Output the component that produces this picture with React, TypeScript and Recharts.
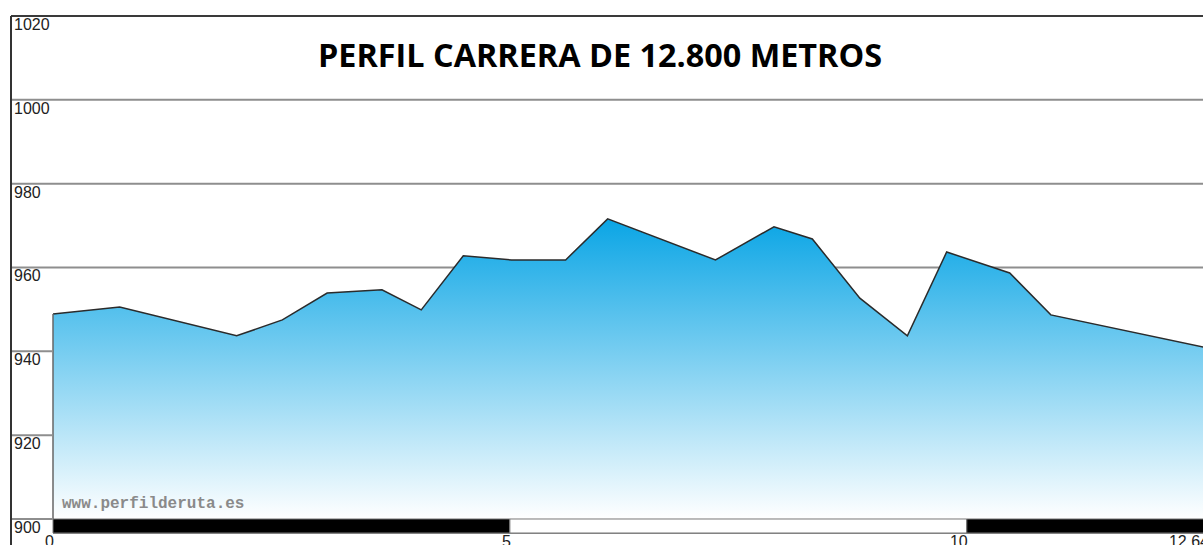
import React from 'react';
import {
  AreaChart, Area, XAxis, YAxis, CartesianGrid, ReferenceArea, ReferenceLine
} from 'recharts';

// distance (km) and elevation (m)
const distKm = [0, 0.73, 2.01, 2.51, 3.0, 3.6, 4.03, 4.49, 5.02, 5.61, 6.07, 7.25, 7.89, 8.31, 8.83, 9.35, 9.78, 10.47, 10.92, 12.64];
const elevM = [948.9, 950.6, 943.7, 947.5, 953.9, 954.7, 949.9, 962.8, 961.8, 961.8, 971.6, 961.8, 969.7, 966.8, 952.7, 943.7, 963.7, 958.7, 948.7, 940.8];
const yTicks = [900, 920, 940, 960, 980, 1000, 1020];
const xTicks = [0, 5, 10, 12.64];
const bandEdges = [0, 5, 10, 12.64];

const data = distKm.map((km, i) => ({ km, elev: elevM[i] }));

const Y_MIN = 896.66;
const Y_MAX = 1020;
const FONT = '"Liberation Sans", Arial, sans-serif';

const YTick = (props: any) => {
  const { y, payload } = props;
  const top = payload.value === Y_MAX;
  return (
    <g>
      <line x1={11} x2={53} y1={y} y2={y} stroke={top ? '#3a3a3a' : '#8e8e8e'} strokeWidth={2} />
      <text x={14} y={y + 14} fontSize={16} fontFamily={FONT} fill="#222">{payload.value}</text>
    </g>
  );
};

const XTick = (props: any) => {
  const { x, payload } = props;
  return (
    <text x={x + 1} y={547} textAnchor="end" fontSize={16} fontFamily={FONT} fill="#222">
      {payload.value}
    </text>
  );
};

const App = () => {
  return (
    <div style={{ position: 'fixed', left: 0, top: 0, width: 1203, height: 545, overflow: 'hidden', background: '#fff' }}>
      <AreaChart
        width={1230}
        height={560}
        data={data}
        margin={{ top: 16, right: 22, left: 11, bottom: 7 }}
      >
        <defs>
          <linearGradient id="elevFill" x1="0" y1="0" x2="0" y2="1">
            <stop offset="0%" stopColor="#0aa5e5" />
            <stop offset="100%" stopColor="#ffffff" />
          </linearGradient>
        </defs>
        <CartesianGrid horizontal vertical={false} stroke="#8e8e8e" strokeWidth={2} strokeDasharray="" />
        <XAxis
          type="number"
          dataKey="km"
          domain={[0, 12.64]}
          ticks={xTicks}
          interval={0}
          axisLine={false}
          tickLine={false}
          height={20}
          tick={<XTick />}
        />
        <YAxis
          type="number"
          domain={[Y_MIN, Y_MAX]}
          ticks={yTicks}
          interval={0}
          allowDataOverflow
          width={42}
          axisLine={false}
          tickLine={false}
          tick={<YTick />}
        />
        <Area
          type="linear"
          dataKey="elev"
          baseValue={900}
          stroke="#2b2b2b"
          strokeWidth={1.5}
          fill="url(#elevFill)"
          fillOpacity={1}
          dot={false}
          activeDot={false}
          isAnimationActive={false}
        />
        <ReferenceLine
          segment={[{ x: distKm[0], y: 900 }, { x: distKm[0], y: elevM[0] }]}
          stroke="#666"
          strokeWidth={1.5}
        />
        <ReferenceLine y={Y_MAX} stroke="#3a3a3a" strokeWidth={2} />
        {bandEdges.slice(0, -1).map((from, i) => (
          <ReferenceArea
            key={from}
            x1={from}
            x2={bandEdges[i + 1]}
            y1={Y_MIN}
            y2={900}
            fill={i % 2 === 0 ? '#000' : '#fff'}
            fillOpacity={1}
            stroke="#777"
            strokeWidth={1}
          />
        ))}
      </AreaChart>

      {/* frame, title and watermark */}
      <div style={{ position: 'absolute', left: 10, top: 16, width: 2, height: 529, background: '#333' }} />
      <svg width={1203} height={545} style={{ position: 'absolute', left: 0, top: 0, pointerEvents: 'none' }}>
        <text
          x={600}
          y={67}
          textAnchor="middle"
          fontSize={32}
          fontWeight="bold"
          fontFamily='"Open Sans", sans-serif'
          textLength={564}
          lengthAdjust="spacingAndGlyphs"
          fill="#000"
        >
          PERFIL CARRERA DE 12.800 METROS
        </text>
        <text x={62} y={508} fontSize={16} fontWeight="bold" fontFamily='"Liberation Mono", monospace' fill="#8a8a8a">
          www.perfilderuta.es
        </text>
      </svg>
    </div>
  );
};

export default App;
